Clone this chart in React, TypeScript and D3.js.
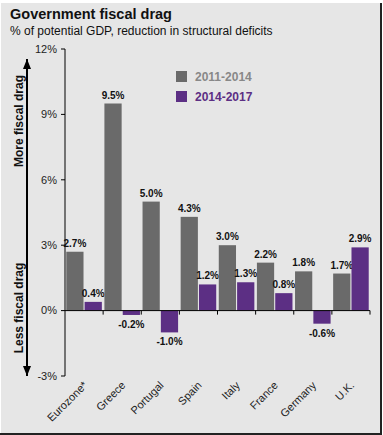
import React from "react";
import * as d3 from "d3";

const categories = ["Eurozone*", "Greece", "Portugal", "Spain", "Italy", "France", "Germany", "U.K."];
const series2011 = [2.7, 9.5, 5.0, 4.3, 3.0, 2.2, 1.8, 1.7];
const series2014 = [0.4, -0.2, -1.0, 1.2, 1.3, 0.8, -0.6, 2.9];
const seriesNames = ["2011-2014", "2014-2017"];
const yTicks = [-3, 0, 3, 6, 9, 12];

const W = 383;
const H = 435;
const GRAY = "#6a6a6a";
const PURPLE = "#5c2f84";
const FONT = "Liberation Sans, Arial, sans-serif";

export default function App() {
  const x0 = 65, x1 = 370;
  const y = d3.scaleLinear().domain([-3, 12]).range([376, 49]);
  const xb = d3.scaleBand().domain(categories).range([x0, x1]).paddingInner(0).paddingOuter(0);
  const xs = d3.scaleBand().domain(seriesNames).range([0, xb.bandwidth()]).paddingInner(0.06).paddingOuter(0.07);
  const data = [series2011, series2014];
  const colors = [GRAY, PURPLE];

  return (
    <svg width={W} height={H} style={{ position: "fixed", left: 0, top: 0 }} fontFamily={FONT}>
      <rect x={0} y={0} width={W} height={H} fill="#ffffff" />
      <rect x={1} y={3} width={380} height={430} fill="#e6e6e6" />
      <line x1={381} y1={3} x2={381} y2={434} stroke="#222" strokeWidth={2} />
      <line x1={0} y1={434} x2={382} y2={434} stroke="#222" strokeWidth={2} />

      <text x={10} y={19} fontSize={14.5} fontWeight="bold" fill="#111">Government fiscal drag</text>
      <text x={10} y={35} fontSize={12} fill="#111">% of potential GDP, reduction in structural deficits</text>

      <defs>
        <marker id="ah" viewBox="0 0 10 10" refX="10" refY="5" markerWidth="5" markerHeight="6" orient="auto-start-reverse">
          <path d="M0,1 L10,5 L0,9 z" fill="#000" />
        </marker>
      </defs>
      <line x1={27} y1={59} x2={27} y2={376} stroke="#000" strokeWidth={2} markerStart="url(#ah)" markerEnd="url(#ah)" />
      <text transform={`translate(22.5,121) rotate(-90)`} textAnchor="middle" fontSize={12} fontWeight="bold" fill="#111">More fiscal drag</text>
      <text transform={`translate(22.5,308) rotate(-90)`} textAnchor="middle" fontSize={12} fontWeight="bold" fill="#111">Less fiscal drag</text>

      <line x1={x0} y1={y(12)} x2={x0} y2={y(-3)} stroke="#000" strokeWidth={1} />
      {yTicks.map((t) => (
        <g key={t}>
          <line x1={x0 - 4} x2={x0} y1={y(t)} y2={y(t)} stroke="#000" />
          <text x={x0 - 8} y={y(t)} dy="0.35em" textAnchor="end" fontSize={11} fill="#222">{t}%</text>
        </g>
      ))}

      {categories.map((c, i) => (
        <g key={c} transform={`translate(${xb(c)},0)`}>
          {data.map((s, j) => {
            const v = s[i];
            const bx = xs(seriesNames[j])!;
            const top = y(Math.max(0, v));
            const h = Math.abs(y(v) - y(0));
            return (
              <g key={j}>
                <rect x={bx} y={top} width={xs.bandwidth()} height={h} fill={colors[j]} />
                <text
                  x={bx + xs.bandwidth() / 2}
                  y={v >= 0 ? y(v) - 5 : y(v) + 13}
                  textAnchor="middle"
                  fontSize={10}
                  fontWeight="bold"
                  fill="#111"
                >
                  {v.toFixed(1)}%
                </text>
              </g>
            );
          })}
        </g>
      ))}

      <line x1={x0} x2={x1} y1={y(0)} y2={y(0)} stroke="#000" />
      {categories.map((c) => (
        <line key={c} x1={xb(c)! + xb.bandwidth()} x2={xb(c)! + xb.bandwidth()} y1={y(0)} y2={y(0) + 4} stroke="#000" />
      ))}
      {categories.map((c) => {
        const cx = xb(c)! + xb.bandwidth() / 2 + 4;
        const cy = y(-3) + 10;
        return (
          <text key={c} transform={`translate(${cx},${cy}) rotate(-45)`} textAnchor="end" fontSize={11} fill="#222">{c}</text>
        );
      })}

      {seriesNames.map((n, j) => (
        <g key={n} transform={`translate(176,${71 + j * 20})`}>
          <rect x={0} y={0} width={11} height={11} fill={colors[j]} />
          <text x={19} y={10} fontSize={12} fontWeight="bold" fill={j === 0 ? "#888" : PURPLE}>{n}</text>
        </g>
      ))}
    </svg>
  );
}
